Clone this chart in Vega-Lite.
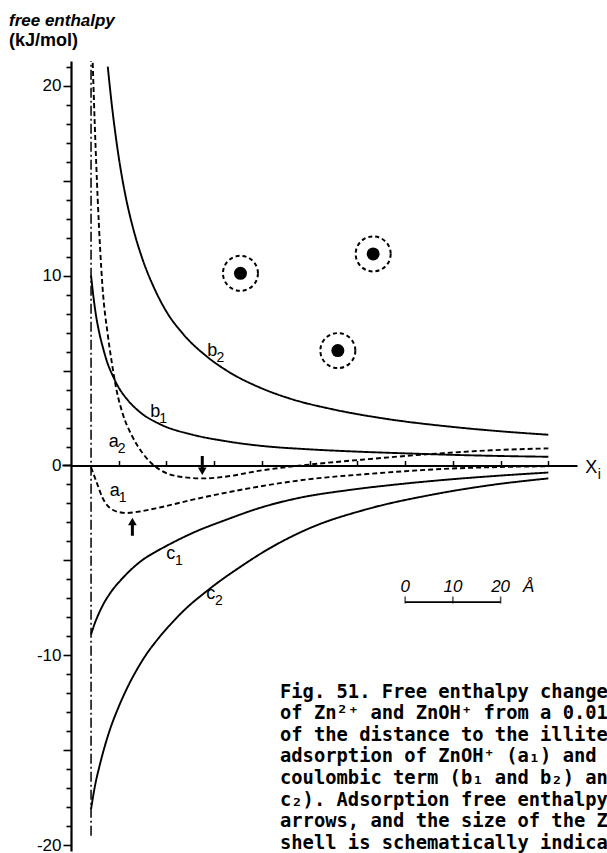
{
  "$schema": "https://vega.github.io/schema/vega-lite/v6.json",
  "width": 506,
  "height": 790,
  "autosize": "none",
  "padding": {"left": 71, "top": 61, "right": 30, "bottom": 2},
  "background": "white",
  "config": {"view": {"stroke": null}, "font": "Liberation Sans"},
  "title": {
    "text": "free enthalpy",
    "subtitle": "(kJ/mol)",
    "anchor": "start",
    "frame": "group",
    "dx": -62,
    "offset": 7,
    "font": "Liberation Sans",
    "fontSize": 17,
    "fontStyle": "italic",
    "fontWeight": "bold",
    "color": "black",
    "subtitleFont": "Liberation Sans",
    "subtitleFontSize": 18,
    "subtitleFontWeight": "bold",
    "subtitleFontStyle": "normal",
    "subtitleColor": "black",
    "subtitlePadding": 2
  },
  "datasets": {
    "curves": [
      {"curve": "a1", "x": 4.2, "y": -0.1}, {"curve": "a1", "x": 5.4, "y": -0.9}, {"curve": "a1", "x": 6.6, "y": -1.7},
      {"curve": "a1", "x": 7.6, "y": -2.1}, {"curve": "a1", "x": 8.7, "y": -2.33}, {"curve": "a1", "x": 10.2, "y": -2.46},
      {"curve": "a1", "x": 11.7, "y": -2.5}, {"curve": "a1", "x": 14.4, "y": -2.42}, {"curve": "a1", "x": 18.6, "y": -2.21},
      {"curve": "a1", "x": 25.5, "y": -1.8}, {"curve": "a1", "x": 32.7, "y": -1.42}, {"curve": "a1", "x": 39.6, "y": -1.1},
      {"curve": "a1", "x": 50, "y": -0.72}, {"curve": "a1", "x": 62, "y": -0.45}, {"curve": "a1", "x": 70, "y": -0.3},
      {"curve": "a1", "x": 78, "y": -0.18}, {"curve": "a1", "x": 88, "y": -0.09}, {"curve": "a1", "x": 100, "y": -0.04},

      {"curve": "a2", "x": 4.55, "y": 21.2}, {"curve": "a2", "x": 5.0, "y": 17.8}, {"curve": "a2", "x": 5.6, "y": 14.0},
      {"curve": "a2", "x": 6.6, "y": 9.4}, {"curve": "a2", "x": 7.7, "y": 6.9}, {"curve": "a2", "x": 8.5, "y": 5.5},
      {"curve": "a2", "x": 9.6, "y": 3.9}, {"curve": "a2", "x": 10.8, "y": 2.75}, {"curve": "a2", "x": 12.9, "y": 1.5},
      {"curve": "a2", "x": 15.0, "y": 0.65}, {"curve": "a2", "x": 16.5, "y": 0.2}, {"curve": "a2", "x": 18.6, "y": -0.22},
      {"curve": "a2", "x": 22.2, "y": -0.56}, {"curve": "a2", "x": 27.6, "y": -0.68}, {"curve": "a2", "x": 32.6, "y": -0.58},
      {"curve": "a2", "x": 39.6, "y": -0.27}, {"curve": "a2", "x": 50, "y": 0.05}, {"curve": "a2", "x": 62, "y": 0.33},
      {"curve": "a2", "x": 78, "y": 0.65}, {"curve": "a2", "x": 88, "y": 0.8}, {"curve": "a2", "x": 100, "y": 0.9},

      {"curve": "b1", "x": 4.2, "y": 10.0}, {"curve": "b1", "x": 5.0, "y": 8.3}, {"curve": "b1", "x": 6.0, "y": 6.9},
      {"curve": "b1", "x": 6.7, "y": 6.2}, {"curve": "b1", "x": 7.5, "y": 5.5}, {"curve": "b1", "x": 8.8, "y": 4.7},
      {"curve": "b1", "x": 10.0, "y": 4.1}, {"curve": "b1", "x": 11.7, "y": 3.5}, {"curve": "b1", "x": 14.4, "y": 2.82},
      {"curve": "b1", "x": 18.6, "y": 2.18}, {"curve": "b1", "x": 25.5, "y": 1.62}, {"curve": "b1", "x": 32.7, "y": 1.27},
      {"curve": "b1", "x": 39.6, "y": 1.04}, {"curve": "b1", "x": 50, "y": 0.85}, {"curve": "b1", "x": 60, "y": 0.73},
      {"curve": "b1", "x": 70, "y": 0.64}, {"curve": "b1", "x": 80, "y": 0.56}, {"curve": "b1", "x": 90, "y": 0.5},
      {"curve": "b1", "x": 100, "y": 0.46},

      {"curve": "b2", "x": 7.7, "y": 21.0}, {"curve": "b2", "x": 8.5, "y": 19.1}, {"curve": "b2", "x": 9.5, "y": 17.1},
      {"curve": "b2", "x": 10.5, "y": 15.45}, {"curve": "b2", "x": 11.5, "y": 14.1}, {"curve": "b2", "x": 13.0, "y": 12.5},
      {"curve": "b2", "x": 15.0, "y": 10.85}, {"curve": "b2", "x": 17.5, "y": 9.3}, {"curve": "b2", "x": 20.0, "y": 8.1},
      {"curve": "b2", "x": 23.4, "y": 6.95}, {"curve": "b2", "x": 28.4, "y": 5.75}, {"curve": "b2", "x": 32.6, "y": 5.0},
      {"curve": "b2", "x": 39.6, "y": 4.1}, {"curve": "b2", "x": 45.9, "y": 3.52}, {"curve": "b2", "x": 55, "y": 2.95},
      {"curve": "b2", "x": 66.2, "y": 2.45}, {"curve": "b2", "x": 80, "y": 2.03}, {"curve": "b2", "x": 90, "y": 1.8},
      {"curve": "b2", "x": 100, "y": 1.62},

      {"curve": "c1", "x": 4.2, "y": -8.9}, {"curve": "c1", "x": 5.0, "y": -8.3}, {"curve": "c1", "x": 6.0, "y": -7.7},
      {"curve": "c1", "x": 7.0, "y": -7.2}, {"curve": "c1", "x": 8.0, "y": -6.8}, {"curve": "c1", "x": 9.0, "y": -6.45},
      {"curve": "c1", "x": 10.2, "y": -6.1}, {"curve": "c1", "x": 12.5, "y": -5.5}, {"curve": "c1", "x": 15.0, "y": -4.97},
      {"curve": "c1", "x": 17.5, "y": -4.58}, {"curve": "c1", "x": 20.1, "y": -4.22}, {"curve": "c1", "x": 25.5, "y": -3.55},
      {"curve": "c1", "x": 32.7, "y": -2.84}, {"curve": "c1", "x": 39.6, "y": -2.23}, {"curve": "c1", "x": 47.9, "y": -1.7},
      {"curve": "c1", "x": 58, "y": -1.3}, {"curve": "c1", "x": 68.9, "y": -0.98}, {"curve": "c1", "x": 80, "y": -0.72},
      {"curve": "c1", "x": 90, "y": -0.53}, {"curve": "c1", "x": 100, "y": -0.37},

      {"curve": "c2", "x": 4.2, "y": -18.1}, {"curve": "c2", "x": 5.0, "y": -16.9}, {"curve": "c2", "x": 6.0, "y": -15.8},
      {"curve": "c2", "x": 7.0, "y": -14.85}, {"curve": "c2", "x": 8.1, "y": -13.95}, {"curve": "c2", "x": 10.0, "y": -12.7},
      {"curve": "c2", "x": 11.7, "y": -11.75}, {"curve": "c2", "x": 13.8, "y": -10.75}, {"curve": "c2", "x": 15.9, "y": -9.9},
      {"curve": "c2", "x": 18.0, "y": -9.2}, {"curve": "c2", "x": 20.9, "y": -8.35}, {"curve": "c2", "x": 24.0, "y": -7.55},
      {"curve": "c2", "x": 28.0, "y": -6.7}, {"curve": "c2", "x": 31.0, "y": -6.12}, {"curve": "c2", "x": 34.7, "y": -5.47},
      {"curve": "c2", "x": 41.0, "y": -4.45}, {"curve": "c2", "x": 50.0, "y": -3.3}, {"curve": "c2", "x": 62.0, "y": -2.3},
      {"curve": "c2", "x": 75.8, "y": -1.53}, {"curve": "c2", "x": 88, "y": -1.03}, {"curve": "c2", "x": 100, "y": -0.68}
    ],
    "ions": [
      {"x": 35.5, "y": 10.12},
      {"x": 63.3, "y": 11.14},
      {"x": 55.9, "y": 6.05}
    ],
    "arrows": [
      {"x": 12.86, "y": -3.7, "y2": -2.95},
      {"x": 27.5, "y": 0.5, "y2": -0.3}
    ],
    "arrowheads": [
      {"x": 12.86, "y": -2.95, "dir": "up"},
      {"x": 27.5, "y": -0.3, "dir": "down"}
    ],
    "labels": [
      {"x": 29.6, "y": 5.74, "letter": "b", "sub": "2"},
      {"x": 17.65, "y": 2.53, "letter": "b", "sub": "1"},
      {"x": 8.95, "y": 1.0, "letter": "a", "sub": "2"},
      {"x": 9.16, "y": -1.63, "letter": "a", "sub": "1"},
      {"x": 20.9, "y": -4.95, "letter": "c", "sub": "1"},
      {"x": 29.3, "y": -7.05, "letter": "c", "sub": "2"},
      {"x": 109.0, "y": -0.42, "letter": "X", "sub": "i"}
    ],
    "scalebar": [
      {"x": 70, "y": -7.19},
      {"x": 80, "y": -7.19},
      {"x": 90, "y": -7.19}
    ],
    "scaletext": [
      {"x": 70, "y": -6.66, "t": "0"},
      {"x": 80, "y": -6.66, "t": "10"},
      {"x": 90, "y": -6.66, "t": "20"},
      {"x": 95.85, "y": -6.66, "t": "Å"}
    ],
    "segments": [
      {"x": 70, "x2": 90, "y": -7.19, "w": "bar"},
      {"x": -1.8, "x2": 0, "y": 0, "w": "axis"}
    ],
    "caption": [
      {"x": 43.78, "y": -12.22, "caption": "Fig. 51. Free enthalpy changes for the\nof Zn²⁺ and ZnOH⁺ from a 0.01 M solution\nof the distance to the illite surface.\nadsorption of ZnOH⁺ (a₁) and Zn²⁺ (a₂)\ncoulombic term (b₁ and b₂) and a chemical\nc₂). Adsorption free enthalpy minima\narrows, and the size of the Zn²⁺ ion\nshell is schematically indicated."}
    ]
  },
  "encoding": {
    "x": {
      "field": "x", "type": "quantitative",
      "scale": {"domain": [0, 106], "nice": false, "zero": false},
      "axis": {
        "orient": "top", "offset": -404.5, "title": null, "labels": false, "grid": false,
        "values": [10, 20, 30, 40, 50, 60, 70, 80, 90, 100],
        "tickSize": 5, "tickWidth": 1.5, "tickColor": "black",
        "domainWidth": 2, "domainColor": "black"
      }
    },
    "y": {
      "field": "y", "type": "quantitative",
      "scale": {"domain": [-20.3, 21.3], "nice": false, "zero": false},
      "axis": {
        "orient": "left", "title": null, "grid": false,
        "values": [-20, -19, -18, -17, -16, -15, -14, -13, -12, -11, -10, -9, -8, -7, -6, -5, -4, -3, -2, -1, 0, 1, 2, 3, 4, 5, 6, 7, 8, 9, 10, 11, 12, 13, 14, 15, 16, 17, 18, 19, 20, 21],
        "labelExpr": "datum.value % 10 === 0 ? '' + datum.value : ''",
        "labelOverlap": false,
        "labelBound": false,
        "tickSize": {"condition": {"test": "datum.value % 5 === 0", "value": 8}, "value": 5},
        "tickWidth": 1.6, "tickColor": "black",
        "domainWidth": 2.2, "domainColor": "black",
        "labelFont": "Liberation Sans", "labelFontSize": 17, "labelColor": "black", "labelPadding": 2
      }
    }
  },
  "layer": [
    {
      "data": {"name": "curves"},
      "mark": {"type": "line", "color": "black", "strokeWidth": 1.9, "interpolate": "monotone"},
      "encoding": {
        "detail": {"field": "curve", "type": "nominal"},
        "strokeDash": {
          "field": "curve", "type": "nominal", "legend": null,
          "scale": {"domain": ["a1", "a2", "b1", "b2", "c1", "c2"], "range": [[5, 3], [5, 3], [1, 0], [1, 0], [1, 0], [1, 0]]}
        }
      }
    },
    {
      "data": {"values": [{"x": 4.2, "y": -19.5, "y2": 21.3}]},
      "mark": {"type": "rule", "color": "black", "strokeWidth": 1.5, "strokeDash": [10, 3, 2, 3]},
      "encoding": {
        "y2": {"field": "y2"}
      }
    },
    {
      "data": {"name": "ions"},
      "mark": {"type": "point", "shape": "circle", "filled": true, "color": "black", "size": 169, "opacity": 1},
      "encoding": {}
    },
    {
      "data": {"name": "ions"},
      "mark": {"type": "point", "shape": "circle", "filled": false, "stroke": "black", "strokeWidth": 2, "strokeDash": [4, 3], "size": 1225, "opacity": 1},
      "encoding": {}
    },
    {
      "data": {"name": "arrows"},
      "mark": {"type": "rule", "color": "black", "strokeWidth": 3},
      "encoding": {
        "y2": {"field": "y2"}
      }
    },
    {
      "data": {"name": "arrowheads"},
      "mark": {"type": "point", "filled": true, "color": "black", "size": 75, "opacity": 1},
      "encoding": {
        "shape": {
          "field": "dir", "type": "nominal", "legend": null,
          "scale": {"domain": ["up", "down"], "range": ["triangle-up", "triangle-down"]}
        }
      }
    },
    {
      "data": {"name": "labels"},
      "mark": {"type": "text", "font": "Liberation Sans", "fontSize": 18, "align": "center", "baseline": "alphabetic", "color": "black"},
      "encoding": {
        "text": {"field": "letter"}
      }
    },
    {
      "data": {"name": "labels"},
      "mark": {"type": "text", "font": "Liberation Sans", "fontSize": 14, "align": "center", "baseline": "alphabetic", "dx": 8, "dy": 6, "color": "black"},
      "encoding": {
        "text": {"field": "sub"}
      }
    },
    {
      "data": {"name": "segments"},
      "mark": {"type": "rule", "color": "black", "strokeWidth": 1.8},
      "encoding": {
        "x2": {"field": "x2"}
      }
    },
    {
      "data": {"name": "scalebar"},
      "mark": {"type": "tick", "orient": "vertical", "color": "black", "size": 7, "thickness": 1.5, "yOffset": -2},
      "encoding": {}
    },
    {
      "data": {"name": "scaletext"},
      "mark": {"type": "text", "font": "Liberation Sans", "fontSize": 17, "fontStyle": "italic", "align": "center", "baseline": "alphabetic", "color": "black"},
      "encoding": {
        "text": {"field": "t"}
      }
    },
    {
      "data": {"name": "caption"},
      "mark": {"type": "text", "font": "DejaVu Sans Mono", "fontWeight": "bold", "fontSize": 18.8, "align": "left", "baseline": "alphabetic", "lineBreak": "\n", "lineHeight": 21.6, "color": "black"},
      "encoding": {
        "text": {"field": "caption"}
      }
    }
  ]
}
